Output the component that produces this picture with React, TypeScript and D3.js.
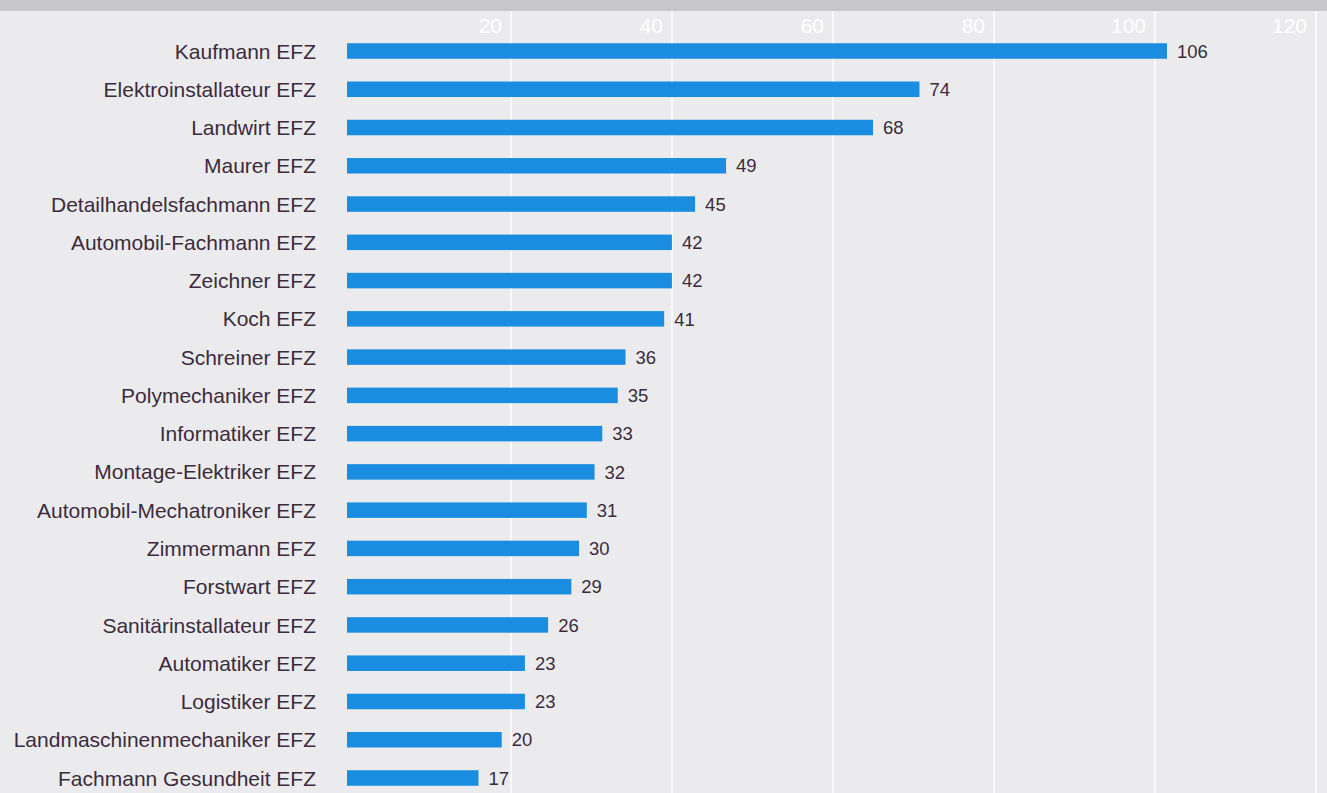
import React from "react";
import * as d3 from "d3";

const categories: string[] = [
  "Kaufmann EFZ",
  "Elektroinstallateur EFZ",
  "Landwirt EFZ",
  "Maurer EFZ",
  "Detailhandelsfachmann EFZ",
  "Automobil-Fachmann EFZ",
  "Zeichner EFZ",
  "Koch EFZ",
  "Schreiner EFZ",
  "Polymechaniker EFZ",
  "Informatiker EFZ",
  "Montage-Elektriker EFZ",
  "Automobil-Mechatroniker EFZ",
  "Zimmermann EFZ",
  "Forstwart EFZ",
  "Sanitärinstallateur EFZ",
  "Automatiker EFZ",
  "Logistiker EFZ",
  "Landmaschinenmechaniker EFZ",
  "Fachmann Gesundheit EFZ",
];

const values: number[] = [106, 74, 68, 49, 45, 42, 42, 41, 36, 35, 33, 32, 31, 30, 29, 26, 23, 23, 20, 17];

const tickValues: number[] = [20, 40, 60, 80, 100, 120];

const W = 1327;
const H = 793;

export default function App() {
  // Bars scale (as printed)
  const x = d3.scaleLinear().domain([0, 106]).range([347, 1167]);
  // Grid scale (printed grid is slightly offset from the bars)
  const xGrid = d3.scaleLinear().domain([0, 120]).range([350, 1316]);
  const y = d3
    .scaleBand<string>()
    .domain(categories)
    .range([51 - 38.26 / 2, 778 + 38.26 / 2])
    .paddingInner(0.6)
    .paddingOuter(0.3);

  const bw = 15.5;
  const font = "'Liberation Sans', Arial, sans-serif";
  const textColor = "#3b2b3d";

  return (
    <svg
      width={W}
      height={H}
      style={{ position: "absolute", left: 0, top: 0 }}
      fontFamily={font}
    >
      <rect x={0} y={0} width={W} height={H} fill="#ebebed" />
      <rect x={0} y={0} width={W} height={11} fill="#c7c7c9" />
      {tickValues.map((t) => (
        <g key={t}>
          <line
            x1={xGrid(t)}
            x2={xGrid(t)}
            y1={11}
            y2={H}
            stroke="#ffffff"
            strokeWidth={1.5}
          />
          <text
            x={xGrid(t) - 9}
            y={33}
            textAnchor="end"
            fill="#ffffff"
            fontSize={21}
          >
            {t}
          </text>
        </g>
      ))}
      {categories.map((c, i) => {
        const cy = (y(c) as number) + y.bandwidth() / 2;
        return (
          <g key={c}>
            <text
              x={316}
              y={cy}
              dy="0.36em"
              textAnchor="end"
              fill={textColor}
              fontSize={21}
            >
              {c}
            </text>
            <rect
              x={x(0)}
              y={cy - bw / 2}
              width={x(values[i]) - x(0)}
              height={bw}
              fill="#1a8de0"
            />
            <text
              x={x(values[i]) + 10}
              y={cy}
              dy="0.36em"
              fill={textColor}
              fontSize={18.5}
            >
              {values[i]}
            </text>
          </g>
        );
      })}
    </svg>
  );
}
